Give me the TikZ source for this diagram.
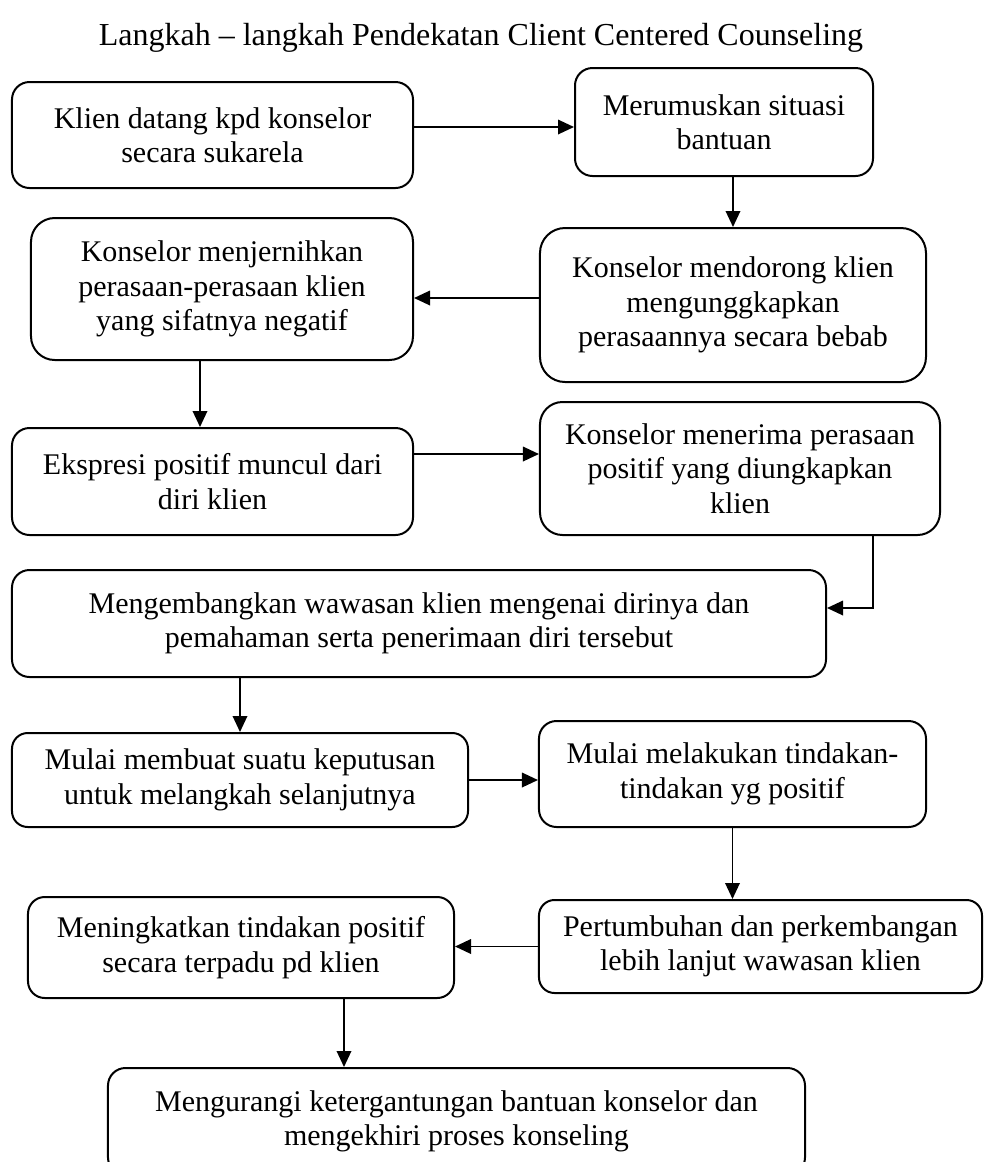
\documentclass[tikz,border=0pt]{standalone}
\usepackage{fontspec}
\setmainfont{Liberation Serif}
\usetikzlibrary{arrows.meta}

\begin{document}
\begin{tikzpicture}[x=0.4pt, y=-0.4pt, every node/.style={font=\fontsize{12}{13.8}\selectfont},
  stepbox/.style={draw, line width=0.8pt, rounded corners=7pt, align=center, inner sep=0pt},
  arr/.style={-{Triangle[length=6.4pt, width=5.8pt]}, line width=0.75pt}]
\useasboundingbox (0,0) rectangle (984,1162);
\node[font=\fontsize{12.8}{14}\selectfont] (t) at (481,38) {Langkah -- langkah Pendekatan Client Centered Counseling};
\node[stepbox, minimum width=160.4pt, minimum height=42.4pt] (a) at (212.5,135) {Klien datang kpd konselor\\secara sukarela};
\node[stepbox, minimum width=119.2pt, minimum height=43.2pt] (b) at (724,122) {Merumuskan situasi\\bantuan};
\node[stepbox, minimum width=154.4pt, minimum height=61.6pt, rounded corners=10pt] (c) at (733,305) {Konselor mendorong klien\\mengunggkapkan\\perasaannya secara bebab};
\node[stepbox, minimum width=152.8pt, minimum height=56.8pt, rounded corners=9.5pt] (d) at (222,289) {Konselor menjernihkan\\perasaan-perasaan klien\\yang sifatnya negatif};
\node[stepbox, minimum width=160.4pt, minimum height=42.8pt] (e) at (212.5,481.5) {Ekspresi positif muncul dari\\diri klien};
\node[stepbox, minimum width=160pt, minimum height=53.2pt, rounded corners=9pt] (f) at (740,468.5) {Konselor menerima perasaan\\positif yang diungkapkan\\klien};
\node[stepbox, minimum width=325.6pt, minimum height=42.8pt] (g) at (419,623.5) {Mengembangkan wawasan klien mengenai dirinya dan\\pemahaman serta penerimaan diri tersebut};
\node[stepbox, minimum width=182.4pt, minimum height=37.6pt, rounded corners=6.3pt] (h) at (240,780) {Mulai membuat suatu keputusan\\untuk melangkah selanjutnya};
\node[stepbox, minimum width=154.8pt, minimum height=42.4pt] (i) at (732.5,774) {Mulai melakukan tindakan-\\tindakan yg positif};
\node[stepbox, minimum width=177.2pt, minimum height=37.2pt, rounded corners=6.2pt] (j) at (760.5,946.5) {Pertumbuhan dan perkembangan\\lebih lanjut wawasan klien};
\node[stepbox, minimum width=170.4pt, minimum height=40.4pt, rounded corners=6.7pt] (k) at (241,947.5) {Meningkatkan tindakan positif\\secara terpadu pd klien};
\node[stepbox, minimum width=278.8pt, minimum height=42.8pt] (l) at (456.5,1121.5) {Mengurangi ketergantungan bantuan konselor dan\\mengekhiri proses konseling};
\draw[arr] ([yshift=3.2pt]a.east) -- ([yshift=3.2pt]a.east -| b.west);
\draw[arr] (c.north |- b.south) -- (c.north);
\draw[arr] ([yshift=2.8pt]c.west) -- ([yshift=2.8pt]c.west -| d.east);
\draw[arr] ([xshift=-5pt]e.north |- d.south) -- ([xshift=-5pt]e.north);
\draw[arr] ([yshift=11pt]e.east) -- ([yshift=11pt]e.east -| f.west);
\draw[arr] ([xshift=53.2pt]f.south) |- ([yshift=6.2pt]g.east);
\draw[arr] (h.north |- g.south) -- (h.north);
\draw[arr] (h.east) -- (h.east -| i.west);
\draw[arr] (i.south) -- (i.south |- j.north);
\draw[arr] (j.west) -- (j.west -| k.east);
\draw[arr] ([xshift=-45pt]l.north |- k.south) -- ([xshift=-45pt]l.north);
\end{tikzpicture}
\end{document}
